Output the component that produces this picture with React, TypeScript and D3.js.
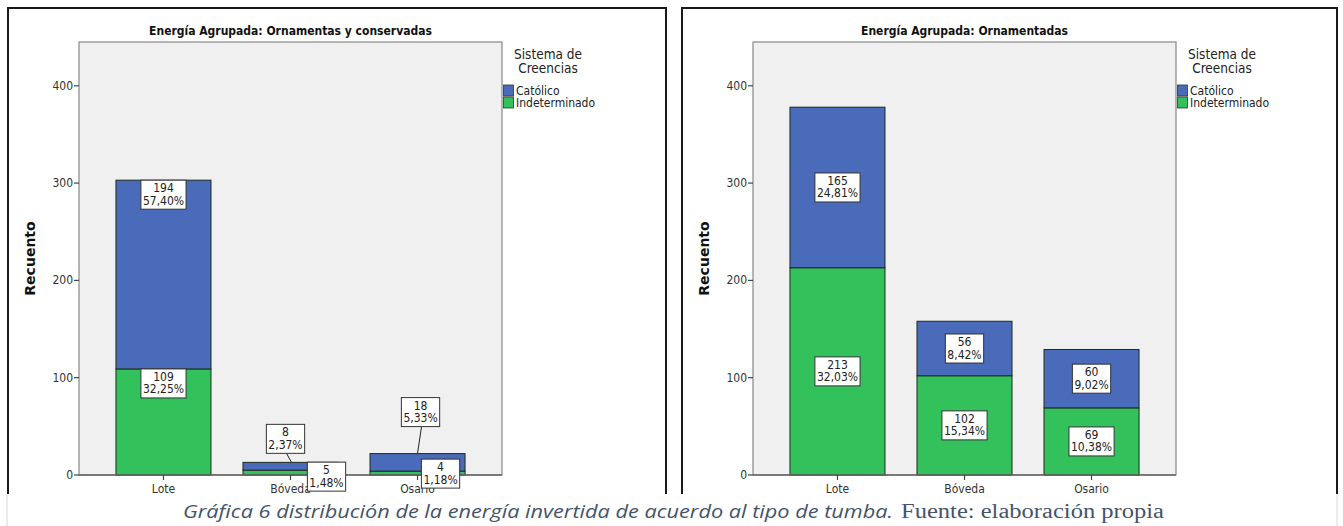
import * as d3 from 'd3';
import * as React from 'react';

const categories = ['Lote', 'Bóveda', 'Osario'];
const seriesNames = ['Católico', 'Indeterminado'];
const yTicks = [0, 100, 200, 300, 400];

const leftCatolico = [194, 8, 18];
const leftIndeterminado = [109, 5, 4];
const rightCatolico = [165, 56, 60];
const rightIndeterminado = [213, 102, 69];

const COLORS: Record<string, string> = {
  'Católico': '#4a6bb9',
  'Indeterminado': '#33c15b',
};

const FONT = '"DejaVu Sans Condensed", "Liberation Sans Narrow", "DejaVu Sans", sans-serif';
const W = 1343;
const H = 526;
const CUT = 494;

// callout placement for the tiny segments of the left chart (px, relative to segment top / bar centre)
interface ICallout { dx: number; dy: number; lead?: boolean }
const leftCallouts: Record<string, ICallout> = {
  'Católico|Bóveda': { dx: -5, dy: -38, lead: true },
  'Indeterminado|Bóveda': { dx: 36, dy: -8 },
  'Católico|Osario': { dx: 3, dy: -56, lead: true },
  'Indeterminado|Osario': { dx: 23, dy: -12 },
};

let ctx: CanvasRenderingContext2D | null = null;
function textWidth(s: string, font: string) {
  if (!ctx) ctx = document.createElement('canvas').getContext('2d');
  if (!ctx) return s.length * 6;
  ctx.font = font;
  return ctx.measureText(s).width;
}

const fmtPct = (v: number, total: number) => (v / total * 100).toFixed(2).replace('.', ',') + '%';

interface IPanelProps {
  x0: number;
  x1: number;
  title: string;
  catolico: number[];
  indeterminado: number[];
  mode: 'top' | 'center';
  callouts?: Record<string, ICallout>;
}

function Panel(props: IPanelProps) {
  const { x0, x1, title, catolico, indeterminado, mode, callouts } = props;
  const plotL = x0 + 71;
  const plotR = plotL + 423;
  const plotT = 42;
  const plotB = 475;

  const x = d3.scaleBand<string>().domain(categories).range([plotL, plotR])
    .paddingInner(0.252).paddingOuter(0.291);
  const y = d3.scaleLinear().domain([0, 445]).range([plotB, plotT]);

  const rows = categories.map((c, i) => ({ cat: c, 'Indeterminado': indeterminado[i], 'Católico': catolico[i] }));
  const stack = d3.stack<any>().keys(['Indeterminado', 'Católico'])(rows);
  const total = d3.sum(catolico) + d3.sum(indeterminado);

  const labelSize = 12;
  const labelFont = `${labelSize}px ${FONT}`;

  return (
    <g>
      <rect x={x0} y={8} width={x1 - x0} height={H} fill="#fff" stroke="#1a1a1a" strokeWidth={2} />
      <text x={(plotL + plotR) / 2} y={35} textAnchor="middle" fontFamily={FONT} fontSize={12} fontWeight="bold" fill="#111">{title}</text>
      <rect x={plotL} y={plotT} width={plotR - plotL} height={plotB - plotT} fill="#f0f0f0" stroke="#888" strokeWidth={1.2} />

      {yTicks.map((t) => (
        <g key={t}>
          <line x1={plotL - 5} x2={plotL} y1={y(t)} y2={y(t)} stroke="#444" strokeWidth={1.2} />
          <text x={plotL - 6} y={y(t) + 4} textAnchor="end" fontFamily={FONT} fontSize={12} fill="#333">{t}</text>
        </g>
      ))}
      <text transform={`translate(${x0 + 27},${(plotT + plotB) / 2}) rotate(-90)`} textAnchor="middle"
        fontFamily='"DejaVu Sans", sans-serif' fontSize={14} fontWeight="bold" fill="#111">Recuento</text>

      {stack.map((layer) => (
        <g key={layer.key}>
          {layer.map((d: any, i: number) => (
            <rect key={i} x={x(categories[i])} y={y(d[1])} width={x.bandwidth()} height={y(d[0]) - y(d[1])}
              fill={COLORS[layer.key]} stroke="#1e2a1e" strokeWidth={1} />
          ))}
        </g>
      ))}

      <line x1={plotL} x2={plotR} y1={plotB} y2={plotB} stroke="#666" strokeWidth={1.5} />
      {categories.map((c) => {
        const cx = (x(c) as number) + x.bandwidth() / 2;
        return (
          <g key={c}>
            <line x1={cx} x2={cx} y1={plotB} y2={plotB + 5} stroke="#444" strokeWidth={1.2} />
            <text x={cx} y={plotB + 18} textAnchor="middle" fontFamily={FONT} fontSize={12} fill="#333">{c}</text>
          </g>
        );
      })}

      {stack.map((layer) => layer.map((d: any, i: number) => {
        const c = categories[i];
        const v = d[1] - d[0];
        const cx = (x(c) as number) + x.bandwidth() / 2;
        const l1 = String(v);
        const l2 = fmtPct(v, total);
        const bw = Math.max(textWidth(l1, labelFont), textWidth(l2, labelFont)) + 4;
        const bh = 29;
        const co = callouts ? callouts[`${layer.key}|${c}`] : undefined;
        let bx = cx - bw / 2;
        let by = mode === 'top' ? y(d[1]) : (y(d[0]) + y(d[1])) / 2 - bh / 2;
        if (co) {
          bx = cx + co.dx - bw / 2;
          by = y(d[1]) + co.dy;
        }
        return (
          <g key={`${layer.key}${i}`}>
            {co && co.lead && (
              <line x1={cx + co.dx + 1} y1={by + bh} x2={cx + (co.dx > 0 ? 0 : 1)} y2={y(d[1])} stroke="#222" strokeWidth={1} />
            )}
            <rect x={bx} y={by} width={bw} height={bh} fill="#fff" stroke="#333" strokeWidth={1} />
            <text x={bx + bw / 2} y={by + 12} textAnchor="middle" fontFamily={FONT} fontSize={labelSize} fill="#222">{l1}</text>
            <text x={bx + bw / 2} y={by + 24.5} textAnchor="middle" fontFamily={FONT} fontSize={labelSize} fill="#222">{l2}</text>
          </g>
        );
      }))}

      <text x={plotR + 46} y={59} textAnchor="middle" fontFamily={FONT} fontSize={13.5} fill="#222">Sistema de</text>
      <text x={plotR + 46} y={73} textAnchor="middle" fontFamily={FONT} fontSize={13.5} fill="#222">Creencias</text>
      {seriesNames.map((s, i) => (
        <g key={s}>
          <rect x={plotR + 1.5} y={85 + i * 12} width={10} height={11} fill={COLORS[s]} stroke="#333" strokeWidth={0.8} />
          <text x={plotR + 14} y={94.5 + i * 12} fontFamily={FONT} fontSize={12} fill="#222">{s}</text>
        </g>
      ))}
    </g>
  );
}

export default function App() {
  return (
    <div style={{ position: 'absolute', left: 0, top: 0 }}>
      <svg width={W} height={H} style={{ display: 'block' }}>
        <rect x={0} y={0} width={W} height={H} fill="#fff" />
        <defs>
          <clipPath id="cut"><rect x={0} y={0} width={W} height={CUT} /></clipPath>
        </defs>
        <g clipPath="url(#cut)">
          <Panel x0={8} x1={666} title="Energía Agrupada: Ornamentas y conservadas"
            catolico={leftCatolico} indeterminado={leftIndeterminado} mode="top" callouts={leftCallouts} />
          <Panel x0={682} x1={1337} title="Energía Agrupada: Ornamentadas"
            catolico={rightCatolico} indeterminado={rightIndeterminado} mode="center" />
        </g>
        <line x1={7} x2={7} y1={CUT} y2={H} stroke="#d8d8d8" />
        <line x1={1337} x2={1337} y1={CUT} y2={H} stroke="#d8d8d8" />
        <text x={183} y={518} fontFamily='"Open Sans", "Noto Sans", sans-serif' fontStyle="italic" fontSize={19}
          fill="#44546a" textLength={710} lengthAdjust="spacingAndGlyphs">
          Gráfica 6 distribución de la energía invertida de acuerdo al tipo de tumba.
        </text>
        <text x={901} y={518} fontFamily='"Liberation Serif", "DejaVu Serif", serif' fontSize={20}
          fill="#44546a" textLength={263} lengthAdjust="spacingAndGlyphs">
          Fuente: elaboración propia
        </text>
      </svg>
    </div>
  );
}
